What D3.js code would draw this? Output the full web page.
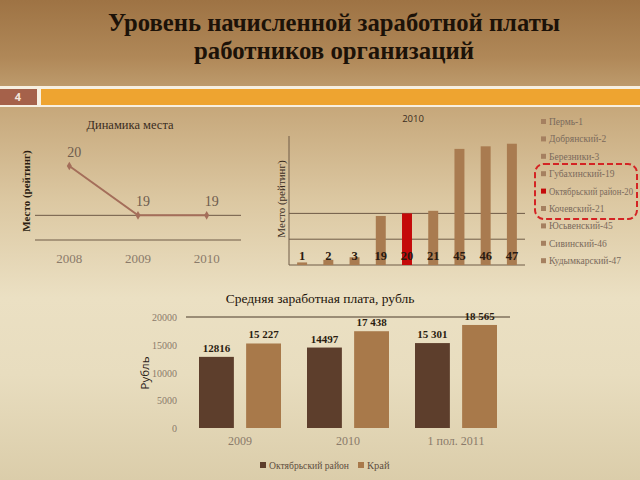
<!DOCTYPE html>
<html><head><meta charset="utf-8">
<script src="https://cdn.jsdelivr.net/npm/d3@7"></script>
<style>html,body{margin:0;padding:0;}svg{display:block;}</style>
</head><body>
<script>
// ---- data ----
const titleLines = ["Уровень начисленной заработной платы", "работников организаций"];
const slideNumber = "4";

const rankYears = ["2008", "2009", "2010"];
const rankValues = [20, 19, 19];
const rankGrid = [18.5, 19];

const districts = ["Пермь-1", "Добрянский-2", "Березники-3", "Губахинский-19", "Октябрьский район-20", "Кочевский-21", "Юсьвенский-45", "Сивинский-46", "Кудымкарский-47"];
const districtRanks = [1, 2, 3, 19, 20, 21, 45, 46, 47];
const highlightIndex = 4;
const districtGrid = [10, 20];

const wageCats = ["2009", "2010", "1 пол. 2011"];
const wageSeries = ["Октябрьский район", "Край"];
const octWages = [12816, 14497, 15301];
const kraiWages = [15227, 17438, 18565];
const octLabels = ["12816", "14497", "15 301"];
const kraiLabels = ["15 227", "17 438", "18 565"];
const wageTicks = [0, 5000, 10000, 15000, 20000];

// ---- drawing ----
const W = 640, H = 480;
const serif = "'Liberation Serif','Times New Roman',serif";
const sans = "'Open Sans','Liberation Sans',sans-serif";
const svg = d3.select("body").append("svg").attr("width", W).attr("height", H);
const defs = svg.append("defs");
const g = defs.append("linearGradient").attr("id", "bg").attr("x1", 0).attr("y1", 0).attr("x2", 0).attr("y2", 1);
[[0, "#9e7344"], [0.12, "#b08858"], [0.22, "#c6a77a"], [0.42, "#dcc8a2"], [0.62, "#ebe0c3"], [0.78, "#e8ddbf"], [1, "#dbcdaa"]]
  .forEach(([o, c]) => g.append("stop").attr("offset", o).attr("stop-color", c));
svg.append("rect").attr("width", W).attr("height", H).attr("fill", "url(#bg)");

// fit text into a max width
function fit(sel, maxW) {
  sel.each(function () {
    const w = this.getComputedTextLength();
    if (w > maxW) d3.select(this).attr("textLength", maxW).attr("lengthAdjust", "spacingAndGlyphs");
  });
}

// title
svg.selectAll("text.title").data(titleLines).join("text")
  .attr("x", 334).attr("y", (d, i) => 31 + i * 28)
  .attr("text-anchor", "middle")
  .attr("font-family", serif).attr("font-weight", "bold").attr("font-size", 25.5)
  .attr("fill", "#1c1208")
  .attr("textLength", (d, i) => i === 0 ? 452 : 280).attr("lengthAdjust", "spacingAndGlyphs")
  .text(d => d);

// band
svg.append("rect").attr("x", 0).attr("y", 86).attr("width", W).attr("height", 21).attr("fill", "#f7f0e2");
svg.append("rect").attr("x", 0).attr("y", 89).attr("width", 37).attr("height", 16).attr("fill", "#a5614a");
svg.append("rect").attr("x", 41).attr("y", 89).attr("width", W - 41).attr("height", 16).attr("fill", "#eea430");
svg.append("text").attr("x", 18).attr("y", 101).attr("text-anchor", "middle")
  .attr("font-family", sans).attr("font-weight", "bold").attr("font-size", 11).attr("fill", "#f4e6dc").text(slideNumber);

// ---- left chart: rank dynamics ----
const xL = d3.scaleBand().domain(rankYears).range([35, 241]);
const yL = d3.scaleLinear().domain([18.5, 20]).range([240, 166]);
const left = svg.append("g");
left.append("text").attr("x", 130).attr("y", 129).attr("text-anchor", "middle")
  .attr("font-family", serif).attr("font-size", 12.5).attr("fill", "#3a2c1e").text("Динамика места");
left.selectAll("line.grid").data(rankGrid).join("line")
  .attr("x1", 35).attr("x2", 241).attr("y1", d => yL(d)).attr("y2", d => yL(d))
  .attr("stroke", "#6e5a46").attr("stroke-width", 1);
left.append("text").attr("transform", "translate(30,191) rotate(-90)").attr("text-anchor", "middle")
  .attr("font-family", serif).attr("font-weight", "bold").attr("font-size", 11).attr("fill", "#2a1c10").text("Место (рейтинг)");
const cx = d => xL(d) + xL.bandwidth() / 2;
const line = d3.line().x((d, i) => cx(rankYears[i])).y(d => yL(d));
left.append("path").datum(rankValues).attr("d", line).attr("fill", "none").attr("stroke", "#a46e5a").attr("stroke-width", 2);
left.selectAll("path.mk").data(rankValues).join("path")
  .attr("d", d3.symbol(d3.symbolDiamond, 22))
  .attr("transform", (d, i) => `translate(${cx(rankYears[i])},${yL(d)})`)
  .attr("fill", "#a46e5a");
left.selectAll("text.val").data(rankValues).join("text")
  .attr("x", (d, i) => cx(rankYears[i]) + 5).attr("y", d => yL(d) - 9)
  .attr("text-anchor", "middle").attr("font-family", serif).attr("font-size", 14).attr("fill", "#6e5c4e").text(d => d);
left.selectAll("text.xl").data(rankYears).join("text")
  .attr("x", d => cx(d)).attr("y", 263).attr("text-anchor", "middle")
  .attr("font-family", serif).attr("font-size", 13).attr("fill", "#8a7a6a").text(d => d);

// ---- middle chart: 2010 ranks ----
const xM = d3.scaleBand().domain(districts).range([289, 525]).paddingInner(0.62).paddingOuter(0.31);
const yM = d3.scaleLinear().domain([0, 50]).range([265, 136]);
const mid = svg.append("g");
mid.append("text").attr("x", 413).attr("y", 122).attr("text-anchor", "middle")
  .attr("font-family", sans).attr("font-size", 9.5).attr("fill", "#3a2c1e").text("2010");
mid.selectAll("line.grid").data(districtGrid).join("line")
  .attr("x1", 289).attr("x2", 525).attr("y1", d => yM(d)).attr("y2", d => yM(d))
  .attr("stroke", "#6e5a46").attr("stroke-width", 1);
mid.append("line").attr("x1", 289).attr("x2", 525).attr("y1", yM(0)).attr("y2", yM(0)).attr("stroke", "#6e5a46");
mid.append("line").attr("x1", 289).attr("x2", 289).attr("y1", yM(0)).attr("y2", yM(50)).attr("stroke", "#6e5a46");
mid.append("text").attr("transform", "translate(285,199) rotate(-90)").attr("text-anchor", "middle")
  .attr("font-family", serif).attr("font-size", 11).attr("fill", "#3a2c1e").text("Место (рейтинг)");
mid.selectAll("rect.bar").data(districtRanks).join("rect")
  .attr("x", (d, i) => xM(districts[i])).attr("width", xM.bandwidth())
  .attr("y", d => yM(d)).attr("height", d => yM(0) - yM(d))
  .attr("fill", (d, i) => i === highlightIndex ? "#c40a0a" : "#a97b50");
mid.selectAll("text.bl").data(districtRanks).join("text")
  .attr("x", (d, i) => xM(districts[i]) + xM.bandwidth() / 2).attr("y", 260)
  .attr("text-anchor", "middle").attr("font-family", serif).attr("font-weight", "bold").attr("font-size", 12.5)
  .attr("fill", "#2a1a10").text(d => d);
// legend
const legY = i => 125 + i * 17.4;
mid.selectAll("rect.lg").data(districts).join("rect")
  .attr("x", 541).attr("y", (d, i) => legY(i) - 6).attr("width", 5).attr("height", 5)
  .attr("fill", (d, i) => i === highlightIndex ? "#c40a0a" : "#a58060");
mid.selectAll("text.lg").data(districts).join("text")
  .attr("x", 549).attr("y", (d, i) => legY(i))
  .attr("font-family", serif).attr("font-size", 9.5).attr("fill", "#7a6a5c").text(d => d)
  .call(fit, 84);
mid.append("rect").attr("x", 535).attr("y", 164).attr("width", 102).attr("height", 55).attr("rx", 9)
  .attr("fill", "none").attr("stroke", "#d42424").attr("stroke-width", 2).attr("stroke-dasharray", "6,3");

// ---- bottom chart: wages ----
const x0 = d3.scaleBand().domain(wageCats).range([186, 510]);
const x1 = d3.scaleBand().domain(wageSeries).range([13, 95]).paddingInner(0.26);
const yB = d3.scaleLinear().domain([0, 20000]).range([428, 317]);
const bot = svg.append("g");
bot.append("text").attr("x", 320).attr("y", 303).attr("text-anchor", "middle")
  .attr("font-family", serif).attr("font-size", 13.5).attr("fill", "#1e140a").text("Средняя заработная плата, рубль");
bot.append("line").attr("x1", 186).attr("x2", 510).attr("y1", yB(20000)).attr("y2", yB(20000)).attr("stroke", "#4a3a2a");
bot.selectAll("text.yt").data(wageTicks).join("text")
  .attr("x", 177).attr("y", d => yB(d) + 4).attr("text-anchor", "end")
  .attr("font-family", serif).attr("font-size", 10).attr("fill", "#8a7a6a").text(d => d);
bot.append("text").attr("transform", "translate(149,373) rotate(-90)").attr("text-anchor", "middle")
  .attr("font-family", sans).attr("font-size", 11.5).attr("fill", "#2a2018").text("Рубль");
const seriesVals = [octWages, kraiWages];
const seriesLabels = [octLabels, kraiLabels];
const seriesColors = ["#5d3e2c", "#a8794a"];
wageSeries.forEach((s, si) => {
  bot.selectAll("rect.s" + si).data(seriesVals[si]).join("rect")
    .attr("x", (d, i) => x0(wageCats[i]) + x1(s)).attr("width", x1.bandwidth())
    .attr("y", d => yB(d)).attr("height", d => yB(0) - yB(d)).attr("fill", seriesColors[si]);
  bot.selectAll("text.s" + si).data(seriesVals[si]).join("text")
    .attr("x", (d, i) => x0(wageCats[i]) + x1(s) + x1.bandwidth() / 2).attr("y", d => yB(d) - 5)
    .attr("text-anchor", "middle").attr("font-family", serif).attr("font-weight", "bold").attr("font-size", 11)
    .attr("fill", "#2a1c10").text((d, i) => seriesLabels[si][i]);
});
bot.selectAll("text.xc").data(wageCats).join("text")
  .attr("x", d => x0(d) + x0.bandwidth() / 2).attr("y", 445).attr("text-anchor", "middle")
  .attr("font-family", serif).attr("font-size", 12).attr("fill", "#8a7a6a").text(d => d);
const legX = [260, 358];
const legW = [80, 30];
wageSeries.forEach((s, si) => {
  bot.append("rect").attr("x", legX[si]).attr("y", 462).attr("width", 6).attr("height", 6).attr("fill", seriesColors[si]);
  bot.append("text").attr("x", legX[si] + 9).attr("y", 469)
    .attr("font-family", serif).attr("font-size", 10.5).attr("fill", "#5e4e40").text(s)
    .call(fit, legW[si]);
});
</script>
</body></html>
